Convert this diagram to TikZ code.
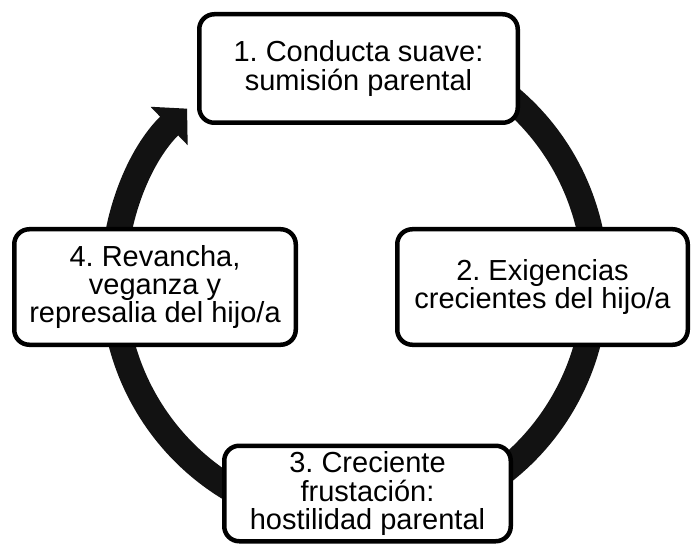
\documentclass[tikz,border=0pt]{standalone}
\usepackage{fontspec}
\setmainfont{Liberation Sans}
\usetikzlibrary{arrows.meta,calc}
\frenchspacing
\tikzset{
  stagebox/.style={draw=black, line width=4.5pt, rounded corners=15pt, fill=white,
    align=center, inner sep=0pt, font=\fontsize{29}{28.2}\selectfont},
  cyclearrow/.style={draw=black!93, line width=26pt, -{Triangle[width=52pt,length=25pt]}}
}
\begin{document}
\begin{tikzpicture}[x=1pt,y=1pt]
\useasboundingbox[fill=white] (0,0) rectangle (692,544);
\coordinate (ctr) at (354.5,262);
\coordinate (arcstart) at ($(ctr)+(60:241)$);
\path[cyclearrow] (arcstart) arc[start angle=60, end angle=-226, radius=241];
\node[stagebox, minimum width=318.5pt, minimum height=108.5pt] (s1) at (358.5,475.5) {1. Conducta suave:\\sumisión parental};
\node[stagebox, minimum width=290.5pt, minimum height=115.5pt] (s2) at (542.5,257) {2. Exigencias\\crecientes del hijo/a};
\node[stagebox, minimum width=286.5pt, minimum height=95.5pt] (s3) at (367.5,50.5) {3. Creciente\\frustación:\\hostilidad parental};
\node[stagebox, minimum width=281.5pt, minimum height=115.5pt] (s4) at (155,257) {4. Revancha,\\veganza y\\represalia del hijo/a};
\end{tikzpicture}
\end{document}
